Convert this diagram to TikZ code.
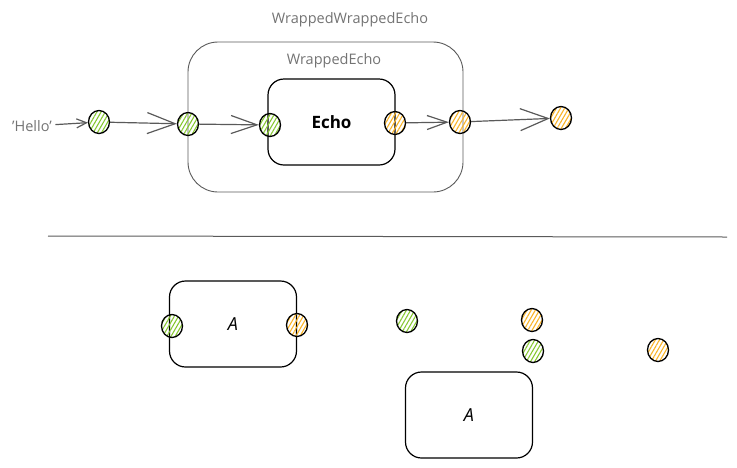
\documentclass[tikz,border=0pt]{standalone}
\usepackage{fontspec}
\setmainfont{Open Sans}
\usetikzlibrary{arrows.meta,patterns.meta,shapes.geometric,positioning}

\definecolor{ingreen}{RGB}{135,200,50}
\definecolor{outorange}{RGB}{250,180,40}
\definecolor{wiregray}{RGB}{90,90,90}
\definecolor{labelgray}{RGB}{115,115,115}

\begin{document}
\begin{tikzpicture}[x=1pt,y=-1pt,
  port/.style={ellipse, draw, line width=1.3pt, minimum width=21pt, minimum height=23pt, inner sep=0pt},
  inport/.style={port, pattern={Lines[angle=60,distance=3.6pt,line width=1.1pt]}, pattern color=ingreen},
  outport/.style={port, pattern={Lines[angle=60,distance=3.6pt,line width=1.1pt]}, pattern color=outorange},
  block/.style={draw, line width=1.2pt, rounded corners=16pt, minimum width=127pt, minimum height=86pt, inner sep=0pt},
  wrapper/.style={draw=wiregray, line width=0.9pt, rounded corners=30pt, inner sep=0pt},
  lbl/.style={text=labelgray, font=\fontsize{14.5}{16}\selectfont},
  wire/.style={draw=wiregray, line width=1.2pt}]

\useasboundingbox (0,0) rectangle (737,467);

% ---------- wrapped echo (top) ----------
\node[wrapper, minimum width=275pt, minimum height=150pt] (wwe) at (325.5,117) {};
\node[lbl] (wwelbl) at (350,20) {WrappedWrappedEcho};
\node[lbl] (welbl) at (334,61) {WrappedEcho};
\node[block, font=\fontsize{17}{19}\selectfont\bfseries] (echo) at (331.5,122) {Echo};

\node[lbl] (hello) at (32,126) {'Hello'};
\node[inport]  (g1) at (99,122) {};
\node[inport]  (g2) at (188,124) {};
\node[inport]  (g3) at (270,125) {};
\node[outport] (o4) at (395,123) {};
\node[outport] (o5) at (460,122) {};
\node[outport] (o6) at (561,118) {};

\draw[wire, -{Straight Barb[length=10pt,width=9pt,line width=1.2pt]}] (hello) -- (g1);
\draw[wire, -{Straight Barb[length=28pt,width=21pt,line width=1.2pt]}] (g1) -- (g2);
\draw[wire, -{Straight Barb[length=26pt,width=18pt,line width=1.2pt]}] (g2) -- (g3);
\draw[wire, -{Straight Barb[length=20pt,width=14pt,line width=1.2pt]}] (o4) -- (o5);
\draw[wire, -{Straight Barb[length=28pt,width=22pt,line width=1.2pt]}] (o5) -- (o6);

% ---------- divider ----------
\coordinate (divL) at (48,236);
\coordinate (divR) at (727,237);
\draw[wiregray, line width=1pt] (divL) -- (divR);

% ---------- loose parts (bottom) ----------
\node[block, font=\fontsize{18}{20}\selectfont\itshape] (a1) at (233,324) {A};
\node[inport]  (a1in)  at (172,326) {};
\node[outport] (a1out) at (297,325) {};

\node[inport]  (pg1) at (407,321) {};
\node[outport] (po1) at (532,320) {};
\node[inport]  (pg2) at (533,351) {};
\node[outport] (po2) at (658,350) {};

\node[block, font=\fontsize{18}{20}\selectfont\itshape] (a2) at (469,415) {A};
\end{tikzpicture}
\end{document}
